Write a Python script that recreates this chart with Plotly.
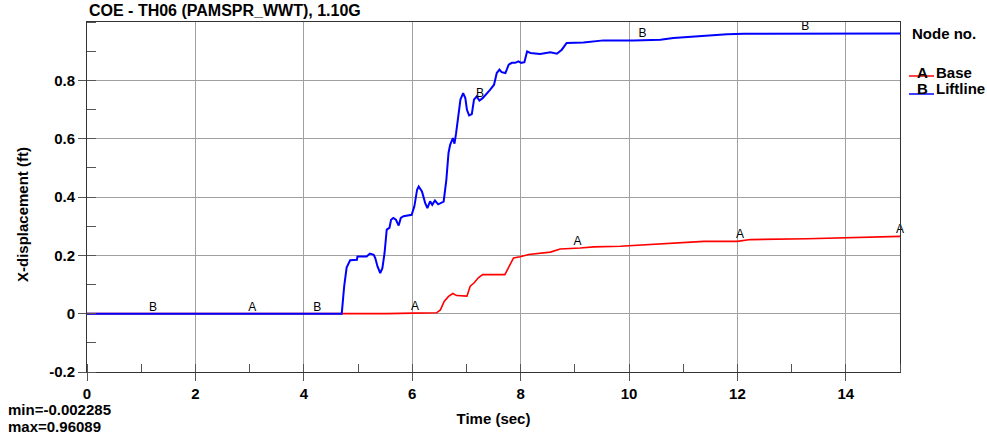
import numpy as np
import plotly.graph_objects as go

# ---- data ----
t_base = [0, 4.30, 4.92, 5.35, 5.53, 6.02, 6.45, 6.52, 6.59, 6.67, 6.75, 6.82, 7.01, 7.07,
          7.14, 7.22, 7.30, 7.71, 7.78, 7.87, 7.99, 8.15, 8.55, 8.73, 9.10, 9.35, 9.84,
          10.64, 11.38, 12.0, 12.24, 13.29, 14.09, 14.77, 15.0]
x_base = [0, 0, 0, -0.002285, 0, 0.002, 0.003, 0.013, 0.042, 0.059, 0.069, 0.062, 0.060, 0.094,
          0.105, 0.123, 0.134, 0.134, 0.157, 0.191, 0.195, 0.203, 0.211, 0.222, 0.225, 0.229, 0.231,
          0.240, 0.248, 0.248, 0.254, 0.257, 0.260, 0.265, 0.265]

t_lift = [0, 4.70, 4.745, 4.79, 4.855, 4.98, 4.99, 5.16, 5.22, 5.29, 5.32, 5.36, 5.41, 5.45,
          5.49, 5.53, 5.58, 5.61, 5.65, 5.70, 5.75, 5.79, 5.84, 5.99, 6.04, 6.09, 6.12, 6.18,
          6.24, 6.28, 6.33, 6.37, 6.42, 6.48, 6.58, 6.63, 6.67, 6.70, 6.75, 6.78, 6.81, 6.85,
          6.89, 6.94, 6.98, 7.01, 7.05, 7.10, 7.14, 7.19, 7.24, 7.30, 7.36, 7.44, 7.51, 7.56,
          7.61, 7.65, 7.72, 7.78, 7.84, 7.90, 7.96, 8.01, 8.07, 8.12, 8.18, 8.36, 8.55, 8.67,
          8.76, 8.85, 9.16, 9.53, 10.09, 10.58, 10.82, 11.25, 11.81, 12.12, 13.66, 15.0]
x_lift = [0, 0, 0.094, 0.158, 0.183, 0.185, 0.196, 0.196, 0.206, 0.202, 0.190, 0.162, 0.139, 0.156,
          0.208, 0.288, 0.294, 0.322, 0.328, 0.322, 0.302, 0.328, 0.334, 0.339, 0.368, 0.425, 0.436, 0.419,
          0.379, 0.362, 0.385, 0.373, 0.388, 0.375, 0.384, 0.459, 0.551, 0.579, 0.602, 0.583, 0.619, 0.677,
          0.734, 0.756, 0.739, 0.699, 0.680, 0.684, 0.734, 0.745, 0.731, 0.739, 0.751, 0.768, 0.785, 0.825,
          0.837, 0.828, 0.825, 0.854, 0.860, 0.860, 0.865, 0.860, 0.862, 0.899, 0.894, 0.890, 0.896, 0.891,
          0.905, 0.928, 0.930, 0.937, 0.937, 0.939, 0.945, 0.951, 0.958, 0.960, 0.961, 0.961]

label_t_A = [3.05, 6.05, 9.05, 12.05, 15.0]
label_t_B = [1.22, 4.25, 7.25, 10.25, 13.25]

x_ticks = [0, 2, 4, 6, 8, 10, 12, 14]
y_ticks = [-0.2, 0, 0.2, 0.4, 0.6, 0.8]

title_text = "COE - TH06 (PAMSPR_WWT), 1.10G"
min_text = "min=-0.002285"
max_text = "max=0.96089"

FONT = "Liberation Sans, Arial, sans-serif"
RED = "#ff0000"
BLUE = "#0000ff"

fig = go.Figure()
fig.add_trace(go.Scatter(x=t_base, y=x_base, mode="lines", line=dict(color=RED, width=1.6),
                         showlegend=False, hoverinfo="skip"))
fig.add_trace(go.Scatter(x=t_lift, y=x_lift, mode="lines", line=dict(color=BLUE, width=2.0),
                         showlegend=False, hoverinfo="skip"))

# curve letter labels placed on the curves
yA = np.interp(label_t_A, t_base, x_base)
yB = np.interp(label_t_B, t_lift, x_lift)
fig.add_trace(go.Scatter(x=label_t_A, y=yA, mode="text", text=["A"] * len(label_t_A),
                         textposition="top center", textfont=dict(family=FONT, size=12, color="black"),
                         showlegend=False, hoverinfo="skip", cliponaxis=False))
fig.add_trace(go.Scatter(x=label_t_B, y=yB, mode="text", text=["B"] * len(label_t_B),
                         textposition="top center", textfont=dict(family=FONT, size=12, color="black"),
                         showlegend=False, hoverinfo="skip", cliponaxis=False))

L, R, T, B = 87, 87, 22, 66
W, H = 987, 438
pw, ph = W - L - R, H - T - B

def px(xp):
    return (xp - L) / pw

def py(yp):
    return (H - B - yp) / ph

bold = dict(family=FONT, size=15, color="black", weight="bold")

annotations = [
    dict(text=title_text, x=0, y=py(10), xref="paper", yref="paper", xanchor="left", yanchor="middle",
         showarrow=False, font=dict(family=FONT, size=16, color="black", weight="bold")),
    dict(text="X-displacement (ft)", x=px(23), y=py(215), xref="paper", yref="paper",
         xanchor="center", yanchor="middle", textangle=-90, showarrow=False, font=bold),
    dict(text="Node no.", x=px(910), y=py(33), xref="paper", yref="paper", xanchor="left", yanchor="middle",
         showarrow=False, font=bold),
    dict(text="A", x=px(922), y=py(72), xref="paper", yref="paper", xanchor="center", yanchor="middle",
         showarrow=False, font=bold),
    dict(text="Base", x=px(934), y=py(72), xref="paper", yref="paper", xanchor="left", yanchor="middle",
         showarrow=False, font=bold),
    dict(text="B", x=px(922), y=py(89), xref="paper", yref="paper", xanchor="center", yanchor="middle",
         showarrow=False, font=bold),
    dict(text="Liftline", x=px(934), y=py(89), xref="paper", yref="paper", xanchor="left", yanchor="middle",
         showarrow=False, font=bold),
    dict(text=min_text, x=px(6), y=py(409), xref="paper", yref="paper", xanchor="left", yanchor="middle",
         showarrow=False, font=bold),
    dict(text=max_text, x=px(6), y=py(426), xref="paper", yref="paper", xanchor="left", yanchor="middle",
         showarrow=False, font=bold),
]

shapes = [
    dict(type="line", xref="paper", yref="paper", x0=px(909), x1=px(934), y0=py(76), y1=py(76),
         line=dict(color=RED, width=1.5)),
    dict(type="line", xref="paper", yref="paper", x0=px(909), x1=px(934), y0=py(94), y1=py(94),
         line=dict(color=BLUE, width=1.5)),
]

fig.update_layout(
    width=W, height=H,
    margin=dict(l=L, r=R, t=T, b=B),
    paper_bgcolor="white", plot_bgcolor="white",
    font=dict(family=FONT, color="black"),
    annotations=annotations, shapes=shapes,
    showlegend=False,
)

fig.update_xaxes(
    range=[0, 15], tickvals=x_ticks, ticktext=[str(v) for v in x_ticks],
    showgrid=True, gridcolor="#a0a0a0", gridwidth=1,
    showline=True, linecolor="#333333", linewidth=1, mirror=True,
    ticks="outside", ticklen=8, tickcolor="#555555",
    tickfont=bold, zeroline=False,
    minor=dict(dtick=1, tick0=0, ticks="inside", ticklen=8, tickcolor="#555555", showgrid=False),
    title=dict(text="Time (sec)", font=bold, standoff=12),
)
fig.update_yaxes(
    range=[-0.2, 1.0], tickvals=y_ticks, ticktext=["-0.2", "0", "0.2", "0.4", "0.6", "0.8"],
    showgrid=True, gridcolor="#a0a0a0", gridwidth=1,
    showline=True, linecolor="#333333", linewidth=1, mirror=True,
    ticks="outside", ticklen=8, tickcolor="#555555",
    tickfont=bold, zeroline=False,
    minor=dict(dtick=0.1, tick0=0, ticks="inside", ticklen=9, tickcolor="#555555", showgrid=False),
)

fig.write_html("out.html")
